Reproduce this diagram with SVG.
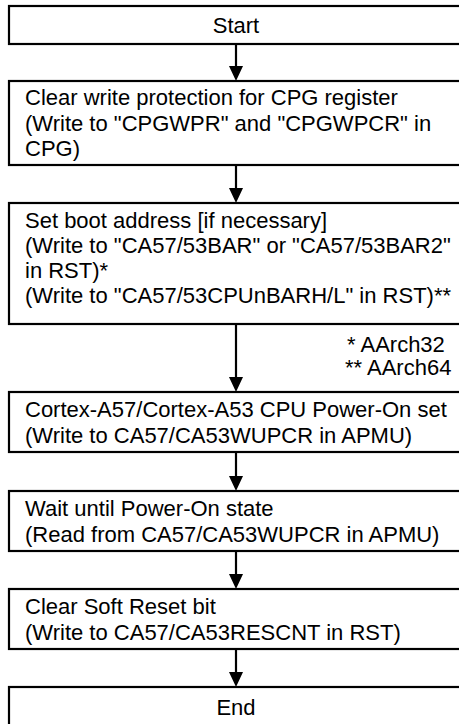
<svg xmlns="http://www.w3.org/2000/svg" width="459" height="724" viewBox="0 0 459 724">
<defs>
<style>
.box{fill:#fff;stroke:#000;stroke-width:2.2}
.t{font-family:"Liberation Sans",Arial,sans-serif;font-size:22px;fill:#000}
.c{text-anchor:middle}
.ln{stroke:#000;stroke-width:2.2;fill:none}
.ah{fill:#000}
</style>
</defs>
<rect width="459" height="724" fill="#fff"/>
<g id="connectors">
<line class="ln" x1="236" y1="44" x2="236" y2="67"/><path class="ah" d="M229,66 L243,66 L236,81 Z"/>
<line class="ln" x1="236" y1="165" x2="236" y2="189"/><path class="ah" d="M229,188 L243,188 L236,203 Z"/>
<line class="ln" x1="236" y1="324" x2="236" y2="378"/><path class="ah" d="M229,377 L243,377 L236,392 Z"/>
<line class="ln" x1="236" y1="452" x2="236" y2="477"/><path class="ah" d="M229,476 L243,476 L236,491 Z"/>
<line class="ln" x1="236" y1="551" x2="236" y2="575"/><path class="ah" d="M229,574 L243,574 L236,589 Z"/>
<line class="ln" x1="236" y1="649" x2="236" y2="673"/><path class="ah" d="M229,672 L243,672 L236,687 Z"/>
</g>
<g id="start">
<rect class="box" x="9" y="6" width="470" height="38"/>
<text class="t c" x="236" y="33">Start</text>
</g>
<g id="clear-protection">
<rect class="box" x="9" y="81" width="470" height="84"/>
<text class="t" x="25" y="105">Clear write protection for CPG register</text>
<text class="t" x="25" y="130.5">(Write to "CPGWPR" and "CPGWPCR" in</text>
<text class="t" x="25" y="156">CPG)</text>
</g>
<g id="boot-address">
<rect class="box" x="9" y="203" width="470" height="121"/>
<text class="t" x="25" y="228">Set boot address [if necessary]</text>
<text class="t" x="25" y="253">(Write to "CA57/53BAR" or "CA57/53BAR2"</text>
<text class="t" x="25" y="278">in RST)*</text>
<text class="t" x="25" y="303">(Write to "CA57/53CPUnBARH/L" in RST)**</text>
</g>
<g id="footnote">
<text class="t" x="347" y="352">* AArch32</text>
<text class="t" x="345" y="375">** AArch64</text>
</g>
<g id="power-on">
<rect class="box" x="9" y="392" width="470" height="60"/>
<text class="t" x="25" y="417">Cortex-A57/Cortex-A53 CPU Power-On set</text>
<text class="t" x="25" y="443">(Write to CA57/CA53WUPCR in APMU)</text>
</g>
<g id="wait">
<rect class="box" x="9" y="491" width="470" height="60"/>
<text class="t" x="25" y="516">Wait until Power-On state</text>
<text class="t" x="25" y="542">(Read from CA57/CA53WUPCR in APMU)</text>
</g>
<g id="soft-reset">
<rect class="box" x="9" y="589" width="470" height="60"/>
<text class="t" x="25" y="614">Clear Soft Reset bit</text>
<text class="t" x="25" y="640">(Write to CA57/CA53RESCNT in RST)</text>
</g>
<g id="end">
<rect class="box" x="9" y="687" width="470" height="40"/>
<text class="t c" x="236" y="715">End</text>
</g>
</svg>
